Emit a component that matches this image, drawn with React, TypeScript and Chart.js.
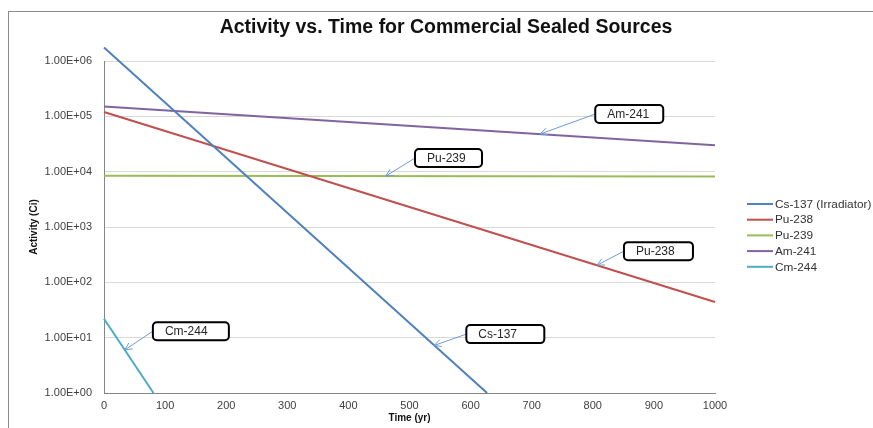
import React, { useEffect, useRef } from "react";
import { Chart, registerables } from "chart.js";

Chart.register(...registerables);

// ---- data ----
const chartTitle = "Activity vs. Time for Commercial Sealed Sources";
const xAxisTitle = "Time (yr)";
const yAxisTitle = "Activity (Ci)";

const seriesNames = ["Cs-137 (Irradiator)", "Pu-238", "Pu-239", "Am-241", "Cm-244"];

const cs137Years = [0, 627];
const cs137Activity = [1.75e6, 1];
const pu238Years = [0, 1000];
const pu238Activity = [1.2e5, 44];
const pu239Years = [0, 1000];
const pu239Activity = [8.4e3, 8.2e3];
const am241Years = [0, 1000];
const am241Activity = [1.5e5, 3.0e4];
const cm244Years = [0, 81];
const cm244Activity = [22, 1];

const xTicks = [0, 100, 200, 300, 400, 500, 600, 700, 800, 900, 1000];
const yTicks = [1, 10, 100, 1e3, 1e4, 1e5, 1e6];

// callouts: label, box left-middle anchor (yr, Ci), arrow tip (yr, Ci)
const calloutLabels = ["Am-241", "Pu-239", "Pu-238", "Cs-137", "Cm-244"];
const calloutBoxYears = [804, 509, 851, 593, 80];
const calloutBoxActivity = [1.1e5, 1.76e4, 366, 11.6, 13.1];
const calloutTipYears = [714, 461, 807, 540, 34];
const calloutTipActivity = [4.8e4, 8.3e3, 204, 7.2, 6.0];

// ---- styles ----
const seriesColors = ["#4F81BD", "#C0504D", "#9BBB59", "#8064A2", "#4BACC6"];
const calloutBoxWidths = [68, 67, 69, 78, 76];
const FONT = '"Liberation Sans", Arial, sans-serif';
const W = 873;
const H = 428;

const seriesYears = [cs137Years, pu238Years, pu239Years, am241Years, cm244Years];
const seriesActivity = [cs137Activity, pu238Activity, pu239Activity, am241Activity, cm244Activity];

function fmtSci(v: number): string {
  const e = Math.round(Math.log10(v));
  const m = v / Math.pow(10, e);
  return m.toFixed(2) + "E+" + String(e).padStart(2, "0");
}

const decorPlugin = {
  id: "decor",
  beforeDraw(chart: any) {
    const c = chart.ctx;
    c.save();
    c.fillStyle = "#ffffff";
    c.fillRect(0, 0, chart.width, chart.height);
    c.strokeStyle = "#8c8c8c";
    c.lineWidth = 1;
    c.strokeRect(8.5, 11.5, chart.width + 20, chart.height + 20);
    c.restore();
  },
  afterDraw(chart: any) {
    const c = chart.ctx;
    const xs = chart.scales.x;
    const ys = chart.scales.y;
    c.save();
    // title
    c.fillStyle = "#111111";
    c.font = `bold 19.5px ${FONT}`;
    c.textAlign = "center";
    c.textBaseline = "middle";
    c.fillText(chartTitle, 446, 28);

    // legend
    c.font = `11.8px ${FONT}`;
    c.textAlign = "left";
    const rowGap = 15.7;
    const legendTop = 204;
    seriesNames.forEach((name, i) => {
      const y = legendTop + i * rowGap;
      c.strokeStyle = seriesColors[i];
      c.lineWidth = 2;
      c.beginPath();
      c.moveTo(747, y);
      c.lineTo(773, y);
      c.stroke();
      c.fillStyle = "#333333";
      c.fillText(name, 775, y + 0.5);
    });

    // callouts
    calloutLabels.forEach((label, i) => {
      const bx = xs.getPixelForValue(calloutBoxYears[i]);
      const by = ys.getPixelForValue(calloutBoxActivity[i]);
      const tx = xs.getPixelForValue(calloutTipYears[i]);
      const ty = ys.getPixelForValue(calloutTipActivity[i]);
      // arrow
      c.strokeStyle = "#6F9BD4";
      c.lineWidth = 1;
      c.beginPath();
      c.moveTo(bx, by);
      c.lineTo(tx, ty);
      c.stroke();
      const ang = Math.atan2(by - ty, bx - tx);
      const len = 8;
      const spread = 0.45;
      c.beginPath();
      c.moveTo(tx + len * Math.cos(ang + spread), ty + len * Math.sin(ang + spread));
      c.lineTo(tx, ty);
      c.lineTo(tx + len * Math.cos(ang - spread), ty + len * Math.sin(ang - spread));
      c.stroke();
      // box
      const w = calloutBoxWidths[i];
      const h = 18;
      const r = 4;
      const x0 = bx;
      const y0 = by - h / 2;
      c.beginPath();
      c.moveTo(x0 + r, y0);
      c.lineTo(x0 + w - r, y0);
      c.arcTo(x0 + w, y0, x0 + w, y0 + r, r);
      c.lineTo(x0 + w, y0 + h - r);
      c.arcTo(x0 + w, y0 + h, x0 + w - r, y0 + h, r);
      c.lineTo(x0 + r, y0 + h);
      c.arcTo(x0, y0 + h, x0, y0 + h - r, r);
      c.lineTo(x0, y0 + r);
      c.arcTo(x0, y0, x0 + r, y0, r);
      c.closePath();
      c.fillStyle = "#ffffff";
      c.fill();
      c.strokeStyle = "#000000";
      c.lineWidth = 2;
      c.stroke();
      c.fillStyle = "#262626";
      c.font = `12px ${FONT}`;
      c.textAlign = "left";
      c.textBaseline = "middle";
      c.fillText(label, x0 + 12, by + 0.5);
    });
    c.restore();
  },
};

export default function App() {
  const ref = useRef<HTMLCanvasElement>(null);
  useEffect(() => {
    const canvas = ref.current;
    if (!canvas) return;
    const prevMargin = document.body.style.margin;
    document.body.style.margin = "0";
    const datasets = seriesNames.map((name, i) => ({
      label: name,
      data: seriesYears[i].map((x, j) => ({ x, y: seriesActivity[i][j] })),
      borderColor: seriesColors[i],
      backgroundColor: seriesColors[i],
      borderWidth: 2,
      pointRadius: 0,
      showLine: true,
      fill: false,
      clip: false as any,
    }));
    const chart = new Chart(canvas, {
      type: "scatter",
      data: { datasets },
      options: {
        responsive: false,
        animation: false,
        devicePixelRatio: 1,
        layout: { padding: { top: 61, right: 158, bottom: 0, left: 0 } },
        plugins: {
          legend: { display: false },
          title: { display: false },
          tooltip: { enabled: false },
        },
        scales: {
          x: {
            type: "linear",
            min: 0,
            max: 1000,
            afterBuildTicks: (s: any) => {
              s.ticks = xTicks.map((v) => ({ value: v }));
            },
            afterFit: (s: any) => {
              s.height = 35;
            },
            grid: { display: false, drawTicks: false },
            border: { color: "#868686", width: 1 },
            ticks: {
              padding: 6,
              color: "#404040",
              font: { family: FONT, size: 11 },
              maxRotation: 0,
              autoSkip: false,
              callback: (v: any) => String(v),
            },
            title: {
              display: true,
              text: xAxisTitle,
              color: "#111111",
              font: { family: FONT, size: 10, weight: "bold" },
              padding: { top: 0, bottom: 4 },
            },
          },
          y: {
            type: "logarithmic",
            min: 1,
            max: 1e6,
            afterBuildTicks: (s: any) => {
              s.ticks = yTicks.map((v) => ({ value: v }));
            },
            afterFit: (s: any) => {
              s.width = 104;
            },
            grid: { color: "#d9d9d9", drawTicks: false },
            border: { color: "#868686", width: 1 },
            ticks: {
              padding: 12,
              color: "#404040",
              font: { family: FONT, size: 11 },
              callback: (v: any) => fmtSci(Number(v)),
              autoSkip: false,
            },
            title: {
              display: true,
              text: yAxisTitle,
              color: "#111111",
              font: { family: FONT, size: 10, weight: "bold" },
              padding: { top: 28, bottom: 0 },
            },
          },
        },
      },
      plugins: [decorPlugin],
    });
    return () => {
      chart.destroy();
      document.body.style.margin = prevMargin;
    };
  }, []);
  return <canvas ref={ref} width={W} height={H} style={{ display: "block" }} />;
}
